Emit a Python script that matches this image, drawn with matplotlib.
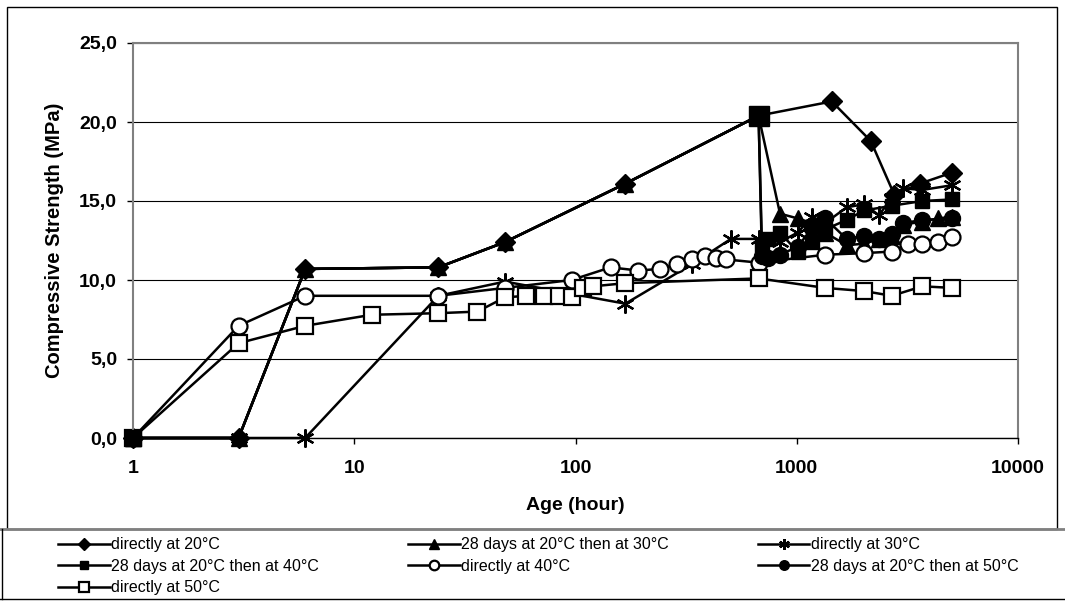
import numpy as np
import matplotlib
matplotlib.use("Agg")
import matplotlib.pyplot as plt
from matplotlib.patches import Rectangle
from matplotlib.lines import Line2D
from matplotlib.ticker import FixedLocator, FuncFormatter

plt.rcParams["font.family"] = ["Liberation Sans", "DejaVu Sans"]

# Curing age (hours) and compressive strength (MPa) for each curing regime
direct20_h = [1, 3, 6, 24, 48, 168, 672, 1440, 2160, 2760, 3600, 5040]
direct20_v = [0, 0, 10.7, 10.8, 12.4, 16.1, 20.4, 21.3, 18.8, 15.4, 16.1, 16.8]

then30_h = [1, 3, 6, 24, 48, 168, 672, 840, 1008, 1176, 1344, 1680, 2016,
            2352, 2688, 3024, 3696, 4368, 5040]
then30_v = [0, 0, 10.7, 10.8, 12.4, 16.1, 20.4, 14.2, 13.9, 13.6, 13.0, 12.2,
            12.3, 12.6, 12.8, 13.5, 13.7, 13.9, 14.0]

direct30_h = [1, 3, 6, 24, 48, 168, 336, 504, 672, 840, 1008, 1176, 1344,
              1680, 2016, 2352, 2688, 3024, 3696, 5040]
direct30_v = [0, 0, 0, 9.0, 9.9, 8.5, 11.0, 12.6, 12.6, 12.4, 13.0, 14.0,
              13.6, 14.6, 14.8, 14.1, 15.2, 15.8, 15.7, 16.0]

then40_h = [1, 3, 6, 24, 48, 168, 672, 696, 744, 840, 1008, 1176, 1344, 1680,
            2016, 2688, 3696, 5040]
then40_v = [0, 0, 10.7, 10.8, 12.4, 16.1, 20.4, 12.2, 12.6, 13.0, 11.8, 12.4,
            13.2, 13.8, 14.4, 14.7, 15.0, 15.1]

direct40_h = [1, 3, 6, 24, 48, 96, 144, 192, 240, 288, 336, 384, 432, 480,
              672, 1344, 2016, 2688, 3192, 3696, 4368, 5040]
direct40_v = [0, 7.1, 9.0, 9.0, 9.5, 10.0, 10.8, 10.6, 10.7, 11.0, 11.3, 11.5,
              11.4, 11.3, 11.1, 11.6, 11.7, 11.8, 12.3, 12.3, 12.4, 12.7]

then50_h = [1, 3, 6, 24, 48, 168, 672, 696, 744, 840, 1008, 1176, 1344, 1680,
            2016, 2352, 2688, 3024, 3696, 5040]
then50_v = [0, 0, 10.7, 10.8, 12.4, 16.1, 20.4, 11.5, 11.4, 11.6, 12.1, 13.3,
            13.9, 12.6, 12.8, 12.6, 12.9, 13.6, 13.8, 13.9]

direct50_h = [1, 3, 6, 12, 24, 36, 48, 60, 72, 84, 96, 108, 120, 168, 672,
              1344, 2016, 2688, 3696, 5040]
direct50_v = [0, 6.0, 7.1, 7.8, 7.9, 8.0, 8.9, 9.0, 9.0, 9.0, 8.9, 9.5, 9.6,
              9.8, 10.1, 9.5, 9.3, 9.0, 9.6, 9.5]

labels = ["directly at 20°C", "28 days at 20°C then at 30°C", "directly at 30°C",
          "28 days at 20°C then at 40°C", "directly at 40°C",
          "28 days at 20°C then at 50°C", "directly at 50°C"]

y_ticks = [0, 5, 10, 15, 20, 25]
x_ticks = [1, 10, 100, 1000, 10000]

W, H = 1065, 603
fig = plt.figure(figsize=(W / 100, H / 100), dpi=100)
fig.patch.set_facecolor("white")

ax = fig.add_axes([133 / W, 1 - 438 / H, (1018 - 133) / W, (438 - 43) / H])
ax.set_xscale("log")
ax.set_xlim(1, 10000)
ax.set_ylim(0, 25)

lw = 1.8
styles = [
    dict(marker="D", ms=10.5, mfc="black"),
    dict(marker="^", ms=11.5, mfc="black"),
    dict(marker=(6, 2, 0), ms=13, mew=1.6),
    dict(marker="s", ms=10.5, mfc="black"),
    dict(marker="o", ms=11.5, mfc="white", mew=1.6),
    dict(marker="o", ms=11.5, mfc="black"),
    dict(marker="s", ms=12, mfc="white", mew=1.6),
]
data = [(direct20_h, direct20_v, None),
        (then30_h, then30_v, None),
        (direct30_h, direct30_v, None),
        (then40_h, then40_v, [0] + list(range(6, len(then40_h)))),
        (direct40_h, direct40_v, None),
        (then50_h, then50_v, list(range(7, len(then50_h)))),
        (direct50_h, direct50_v, None)]

for (hx, hy, every), st, lab in zip(data, styles, labels):
    ax.plot(hx, hy, color="black", lw=lw, mec="black", markevery=every,
            label=lab, clip_on=False, **st)

# filled squares of the 40°C regime sit on top at the start and transfer points
ax.plot([then40_h[0]], [then40_v[0]], marker="s", ms=12, color="black",
        ls="none", clip_on=False, zorder=5)
ax.plot([then40_h[6]], [then40_v[6]], marker="s", ms=14, color="black",
        ls="none", clip_on=False, zorder=5)

ax.yaxis.set_major_locator(FixedLocator(y_ticks))
ax.yaxis.set_major_formatter(FuncFormatter(lambda v, p: f"{v:.1f}".replace(".", ",")))
ax.xaxis.set_major_locator(FixedLocator(x_ticks))
ax.xaxis.set_minor_locator(FixedLocator([]))
ax.xaxis.set_major_formatter(FuncFormatter(lambda v, p: f"{int(round(v))}"))

ax.grid(axis="y", color="black", lw=0.8)
ax.set_axisbelow(True)
for s in ["left", "right", "top"]:
    ax.spines[s].set_color("#808080")
    ax.spines[s].set_linewidth(1.5)
ax.spines["bottom"].set_color("black")
ax.spines["bottom"].set_linewidth(1.0)
ax.tick_params(axis="both", direction="out", length=4, width=1, color="black",
               labelsize=14)
ax.tick_params(axis="x", pad=12)
ax.tick_params(axis="y", pad=7.5)
for t in ax.get_xticklabels() + ax.get_yticklabels():
    t.set_fontweight("bold")

ax.set_ylabel("Compressive Strength (MPa)", fontsize=14.5, fontweight="bold",
              labelpad=11)
ax.set_xlabel("Age (hour)", fontsize=14, fontweight="bold", labelpad=14)

# chart frame and legend box
fig.add_artist(Rectangle((7 / W, 1 - 529 / H), (1057 - 7) / W, (529 - 7) / H,
                         transform=fig.transFigure, fill=False, ec="black",
                         lw=1.0))
fig.add_artist(Line2D([0, 1], [1 - 529 / H, 1 - 529 / H], transform=fig.transFigure,
                      color="#808080", lw=2))
fig.add_artist(Line2D([0, 1], [1 - 599 / H, 1 - 599 / H], transform=fig.transFigure,
                      color="black", lw=1))
fig.add_artist(Line2D([2 / W, 2 / W], [1 - 599 / H, 1 - 529 / H],
                      transform=fig.transFigure, color="black", lw=1))

proxies = [Line2D([], [], color="black", lw=lw, mec="black", **st) for st in styles]
order = [0, 3, 6, 1, 4, 2, 5]
leg = fig.legend([proxies[i] for i in order], [labels[i] for i in order],
                 loc="upper left", bbox_to_anchor=(52 / W, 1 - 531 / H),
                 ncol=3, frameon=False, fontsize=11.5, handlelength=3.2,
                 handletextpad=0.1, columnspacing=5.6, labelspacing=0.4,
                 markerscale=0.6, borderaxespad=0, numpoints=1)

fig.savefig("out.png", dpi=100, facecolor="white")
